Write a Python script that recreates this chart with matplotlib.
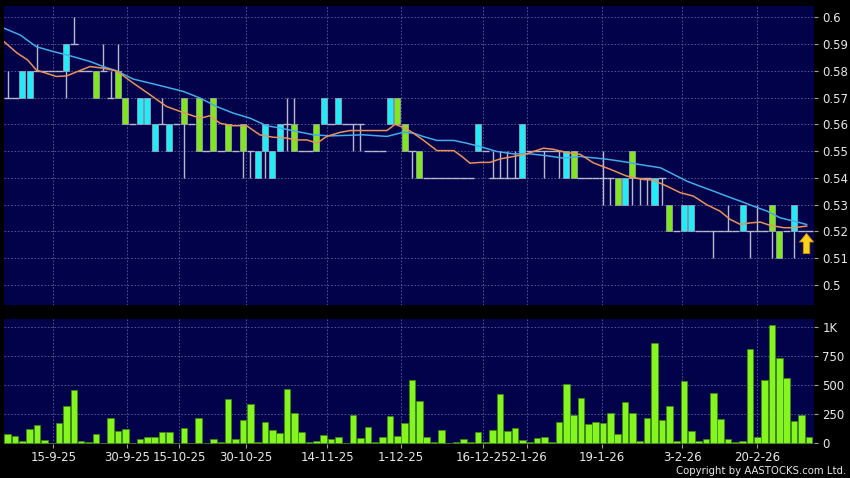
import numpy as np
import matplotlib.pyplot as plt
from matplotlib.path import Path
from matplotlib import font_manager

# daily candles (oldest first)
opens = [.57, .57, .57, .57, .58, .58, .58, .58, .58, .59,
         .58, .58, .58, .58, .57, .58, .57, .56, .56, .56,
         .55, .56, .55, .56, .57, .56, .57, .55, .57, .55,
         .56, .55, .56, .55, .54, .55, .54, .55, .56, .56,
         .55, .55, .56, .56, .56, .56, .56, .56, .56, .55,
         .55, .55, .56, .57, .56, .55, .55, .54, .54, .54,
         .54, .54, .54, .54, .55, .55, .54, .54, .54, .54,
         .54, .55, .55, .55, .55, .55, .54, .55, .54, .54,
         .54, .54, .54, .54, .53, .55, .54, .54, .53, .54,
         .53, .52, .52, .52, .52, .52, .52, .52, .52, .52,
         .52, .52, .52, .52, .53, .52, .52, .52, .52, .52]
highs = [.58, .57, .58, .58, .59, .58, .58, .58, .59, .60,
         .58, .58, .58, .59, .58, .59, .57, .56, .57, .57,
         .56, .57, .56, .56, .57, .56, .57, .55, .57, .55,
         .56, .55, .56, .55, .55, .56, .55, .56, .57, .57,
         .55, .55, .56, .57, .56, .57, .56, .56, .56, .55,
         .55, .55, .57, .57, .56, .55, .55, .54, .54, .54,
         .54, .54, .54, .54, .56, .55, .55, .55, .55, .55,
         .56, .55, .55, .55, .55, .55, .55, .55, .54, .54,
         .54, .55, .54, .54, .54, .55, .54, .54, .54, .54,
         .53, .52, .53, .53, .52, .52, .52, .52, .53, .52,
         .53, .52, .53, .52, .53, .52, .52, .53, .52, .52]
lows = [.57, .57, .57, .57, .58, .58, .58, .58, .57, .59,
        .58, .58, .57, .58, .57, .57, .56, .56, .56, .56,
        .55, .56, .55, .56, .54, .56, .55, .55, .55, .55,
        .55, .55, .54, .54, .54, .54, .54, .55, .55, .55,
        .55, .55, .55, .56, .56, .56, .56, .55, .55, .55,
        .55, .55, .56, .56, .55, .54, .54, .54, .54, .54,
        .54, .54, .54, .54, .55, .55, .54, .54, .54, .54,
        .54, .55, .55, .54, .55, .54, .54, .54, .54, .54,
        .54, .53, .53, .53, .53, .53, .53, .53, .53, .53,
        .52, .52, .52, .52, .52, .52, .51, .52, .52, .52,
        .52, .51, .52, .52, .51, .51, .52, .51, .52, .52]
closes = [.57, .57, .58, .58, .58, .58, .58, .58, .59, .59,
          .58, .58, .57, .58, .57, .57, .56, .56, .57, .57,
          .56, .56, .56, .56, .56, .56, .55, .55, .55, .55,
          .55, .55, .55, .55, .55, .56, .55, .56, .56, .55,
          .55, .55, .55, .57, .56, .57, .56, .56, .56, .55,
          .55, .55, .57, .56, .55, .55, .54, .54, .54, .54,
          .54, .54, .54, .54, .56, .55, .54, .54, .54, .54,
          .56, .55, .55, .55, .55, .55, .55, .54, .54, .54,
          .54, .54, .54, .53, .54, .54, .54, .54, .54, .54,
          .52, .52, .53, .53, .52, .52, .52, .52, .52, .52,
          .53, .52, .52, .52, .52, .51, .52, .53, .52, .52]
volume = [77, 60, 17, 124, 155, 26, 0, 175, 322, 457,
          17, 9, 80, 0, 218, 106, 124, 3, 34, 52,
          55, 95, 100, 0, 132, 0, 218, 0, 40, 9,
          385, 40, 204, 336, 9, 184, 112, 92, 466, 259,
          95, 11, 20, 69, 34, 57, 0, 241, 46, 141,
          11, 55, 236, 63, 178, 543, 362, 55, 11, 115,
          2, 9, 40, 9, 98, 9, 115, 428, 103, 129,
          32, 11, 49, 55, 14, 181, 509, 244, 391, 164,
          184, 175, 261, 83, 356, 261, 17, 216, 862, 204,
          319, 23, 537, 109, 17, 40, 434, 207, 34, 11,
          20, 816, 57, 546, 1017, 736, 560, 193, 244, 55]

# moving averages (x = bar index)
ma10_x = [-0.5, 1.3, 2.7, 3.9, 6.6, 8.0, 11.2, 13.0, 14.8, 17.1, 19.4, 21.6,
          23.9, 26.2, 27.5, 28.9, 30.7, 32.5, 34.3, 36.1, 37.9, 39.3, 40.7,
          42.1, 43.4, 45.2, 46.6, 48.4, 51.6, 52.7, 54.1, 55.2, 56.5, 58.4,
          60.7, 61.8, 62.9, 64.3, 65.6, 67.0, 68.8, 70.6, 72.9, 74.2, 76.0,
          77.9, 79.7, 82.0, 84.2, 86.5, 87.8, 89.7, 91.5, 93.3, 95.1, 96.9,
          98.3, 99.7, 101.0, 102.4, 103.7, 105.6, 106.9, 108.7]
ma10 = [.5909, .5866, .5841, .5803, .5779, .5781, .5816, .5810, .5800, .5754,
        .5710, .5667, .5644, .5623, .5632, .5604, .5595, .5595, .5561, .5552,
        .5549, .5542, .5542, .5530, .5555, .5570, .5577, .5577, .5577, .5600,
        .5586, .5567, .5542, .5502, .5502, .5480, .5455, .5458, .5458, .5471,
        .5480, .5490, .5511, .5507, .5495, .5488, .5456, .5432, .5407, .5394,
        .5392, .5369, .5345, .5332, .5300, .5276, .5245, .5226, .5232, .5235,
        .5223, .5214, .5214, .5220]
ma20_x = [-0.5, 1.7, 3.9, 6.2, 8.0, 11.2, 13.0, 14.8, 17.1, 19.4, 21.6, 23.9,
          26.2, 28.4, 30.7, 33.0, 35.2, 37.1, 41.6, 43.9, 48.4, 51.6, 53.9,
          55.2, 56.5, 58.4, 60.7, 62.4, 64.3, 66.5, 68.8, 71.0, 73.3, 75.6,
          77.9, 81.5, 84.2, 86.0, 88.8, 90.6, 92.4, 94.2, 96.0, 97.8, 99.7,
          101.5, 103.3, 105.1, 106.9, 108.7]
ma20 = [.5959, .5934, .5890, .5872, .5860, .5835, .5816, .5800, .5769, .5754,
        .5739, .5723, .5698, .5667, .5642, .5623, .5595, .5586, .5561, .5557,
        .5561, .5555, .5571, .5567, .5555, .5540, .5540, .5530, .5517, .5499,
        .5490, .5490, .5483, .5474, .5480, .5470, .5459, .5450, .5438, .5413,
        .5388, .5369, .5351, .5332, .5313, .5294, .5276, .5251, .5239, .5226]

date_pos = [6.2, 16.3, 23.3, 32.4, 43.5, 53.5, 64.6, 70.7, 80.8, 91.8, 102.0]
date_labels = ['15-9-25', '30-9-25', '15-10-25', '30-10-25', '14-11-25', '1-12-25',
               '16-12-25', '2-1-26', '19-1-26', '3-2-26', '20-2-26']
price_ticks = [0.5, 0.51, 0.52, 0.53, 0.54, 0.55, 0.56, 0.57, 0.58, 0.59, 0.6]
vol_ticks = [0, 250, 500, 750, 1000]
vol_labels = ['0', '250', '500', '750', '1K']

BG = '#02024A'
GRID = '#5C5C9C'
UP = '#22ECF8'
DOWN = '#82E61E'
WICK = '#B8B8CC'
TXT = '#E8E8E8'

o = np.array(opens); h = np.array(highs); l = np.array(lows); c = np.array(closes)
x = np.arange(len(c))

fig = plt.figure(figsize=(8.5, 4.78), dpi=100, facecolor='black')
ax1 = fig.add_axes([4/850, 1-305/478, 810/850, 299/478], facecolor=BG)
ax2 = fig.add_axes([4/850, 1-444/478, 810/850, 125/478], facecolor=BG)

for ax in (ax1, ax2):
    for s in ax.spines.values():
        s.set_visible(False)
    ax.set_xlim(-0.5, 109.7)
    ax.set_xticks(date_pos)
    ax.yaxis.tick_right()
    ax.grid(True, color=GRID, linestyle=(0, (2, 2)), linewidth=0.6)
    ax.set_axisbelow(True)
    ax.tick_params(axis='y', colors='#A0A0A0', labelcolor=TXT, labelsize=8.5,
                   length=3, pad=3, width=0.8)

# candles
ax1.vlines(x, l, h, color=WICK, linewidth=1, zorder=2)
body = c != o
cols = np.where(c > o, UP, DOWN)
ax1.bar(x[body], np.abs(c - o)[body], bottom=np.minimum(o, c)[body], width=0.82,
        color=cols[body], edgecolor='#A8A8BC', linewidth=0.5, zorder=3)
ax1.hlines(c[~body], x[~body] - 0.5, x[~body] + 0.5, color=WICK, linewidth=1, zorder=2)

ax1.plot(ma20_x, ma20, color='#45AAEA', linewidth=1.1, zorder=4)
ax1.plot(ma10_x, ma10, color='#E8925A', linewidth=1.1, zorder=4)

arrow = Path([(0, 1), (-0.7, 0.15), (-0.32, 0.15), (-0.32, -1), (0.32, -1),
              (0.32, 0.15), (0.7, 0.15), (0, 1)])
ax1.plot(x[-1] - 0.4, c[-1] - 0.0043, marker=arrow, markersize=14.5,
         color='#FFD21E', markeredgecolor='#D08A00', markeredgewidth=0.6, zorder=5)

ax1.set_ylim(0.49253, 0.60422)
ax1.set_yticks(price_ticks)
ax1.set_yticklabels(['%g' % p for p in price_ticks])
ax1.tick_params(axis='x', length=0, labelbottom=False)

# volume
ax2.bar(x, volume, width=0.9, color='#84F51F', edgecolor='#3E8A10', linewidth=0.5, zorder=3)
ax2.set_ylim(-5, 1072)
ax2.set_yticks(vol_ticks)
ax2.set_yticklabels(vol_labels)
ax2.set_xticklabels(date_labels)
ax2.tick_params(axis='x', colors='#A0A0A0', labelcolor=TXT, labelsize=8.5,
                length=3, pad=2, width=0.8)

names = {f.name for f in font_manager.fontManager.ttflist}
if 'Liberation Sans Narrow' in names:
    fig.text(0.995, 0.004, 'Copyright by AASTOCKS.com Ltd.', ha='right', va='bottom',
             color=TXT, fontsize=8.5, family='Liberation Sans Narrow')
else:
    fig.text(0.995, 0.004, 'Copyright by AASTOCKS.com Ltd.', ha='right', va='bottom',
             color=TXT, fontsize=7.3)

fig.savefig('out.png', dpi=100, facecolor='black')
